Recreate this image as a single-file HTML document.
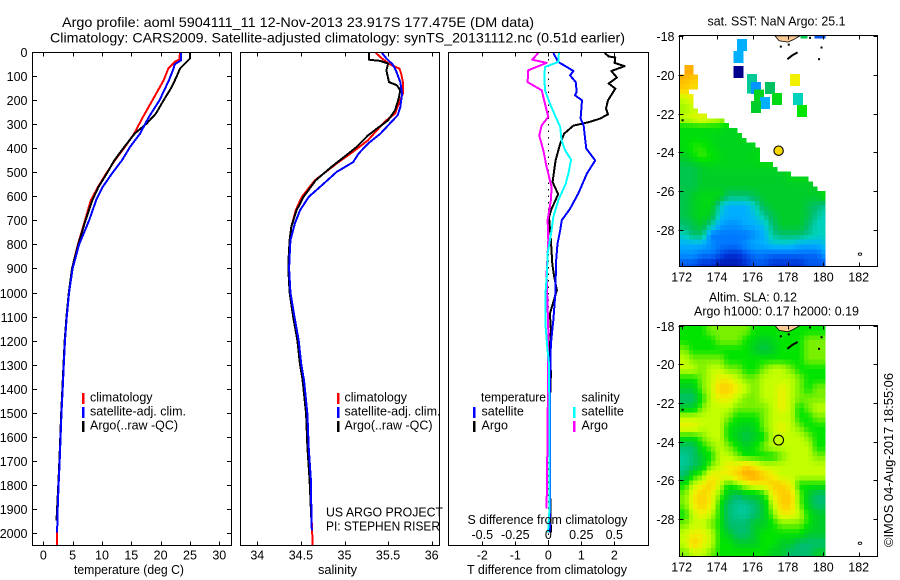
<!DOCTYPE html>
<html lang="en">
<head>
<meta charset="utf-8">
<title>Argo profile 5904111_11</title>
<style>
html,body{margin:0;padding:0;background:#fff;}
svg{display:block;}
text{font-family:"Liberation Sans",Arial,sans-serif;font-size:12.5px;fill:#000;}
.title{font-size:14px;}
</style>
</head>
<body>
<svg id="chart" xmlns="http://www.w3.org/2000/svg" width="900" height="580" viewBox="0 0 900 580">
  <text class="title" x="62" y="27" textLength="472" lengthAdjust="spacingAndGlyphs">Argo profile: aoml 5904111_11 12-Nov-2013 23.917S 177.475E (DM data)</text>
  <text class="title" x="50" y="42.5" textLength="575" lengthAdjust="spacingAndGlyphs">Climatology: CARS2009. Satellite-adjusted climatology: synTS_20131112.nc (0.51d earlier)</text>

  <g id="maps"></g>
  <g id="profiles"></g>

  <text x="74" y="574" textLength="110" lengthAdjust="spacingAndGlyphs">temperature (deg C)</text>
  <text x="318" y="574" textLength="39" lengthAdjust="spacingAndGlyphs">salinity</text>
  <text x="467" y="574" textLength="160" lengthAdjust="spacingAndGlyphs">T difference from climatology</text>
  <text x="467.5" y="524" textLength="160" lengthAdjust="spacingAndGlyphs">S difference from climatology</text>

  <text x="326" y="516.7" textLength="117" lengthAdjust="spacingAndGlyphs">US ARGO PROJECT</text>
  <text x="326" y="530.7" textLength="114" lengthAdjust="spacingAndGlyphs">PI: STEPHEN RISER</text>

  <text x="90" y="401.7">climatology</text>
  <text x="90" y="415.5" textLength="96" lengthAdjust="spacingAndGlyphs">satellite-adj. clim.</text>
  <text x="90" y="429.3" textLength="88" lengthAdjust="spacingAndGlyphs">Argo(..raw -QC)</text>
  <text x="344.5" y="401.7">climatology</text>
  <text x="344.5" y="415.5" textLength="96" lengthAdjust="spacingAndGlyphs">satellite-adj. clim.</text>
  <text x="344.5" y="429.3" textLength="88" lengthAdjust="spacingAndGlyphs">Argo(..raw -QC)</text>
  <text x="481" y="401.7" textLength="65" lengthAdjust="spacingAndGlyphs">temperature</text>
  <text x="481.5" y="415.5">satellite</text>
  <text x="481.5" y="429.3">Argo</text>
  <text x="581.5" y="401.7">salinity</text>
  <text x="581.5" y="415.5">satellite</text>
  <text x="581.5" y="429.3">Argo</text>

  <text x="707.5" y="25.7" textLength="138" lengthAdjust="spacingAndGlyphs">sat. SST: NaN Argo: 25.1</text>
  <text x="709" y="301.7" textLength="88" lengthAdjust="spacingAndGlyphs">Altim. SLA: 0.12</text>
  <text x="694" y="315.7" textLength="165" lengthAdjust="spacingAndGlyphs">Argo h1000: 0.17 h2000: 0.19</text>
  <text transform="translate(893,547) rotate(-90)" x="0" y="0" textLength="174" lengthAdjust="spacingAndGlyphs">©IMOS 04-Aug-2017 18:55:06</text>
</svg>

<script>
// ---------- Temperature profiles ----------
const tempClimDepth = [0,30,40,68,117,200,269,338,394,450,505,561,616,700,800,900,1000,1100,1200,1300,1400,1500,1600,1700,1800,1900,2000,2052];
const tempClim = [23.3,23.2,22.4,21.3,20.5,18.6,17.0,15.5,13.9,12.2,10.7,9.3,8.1,7.1,5.9,4.9,4.4,4.0,3.7,3.5,3.3,3.1,2.9,2.8,2.6,2.45,2.35,2.3];
const tempSatDepth = [0,33,50,68,117,200,269,338,394,450,505,561,616,700,800,900,1000,1100,1200,1300,1400,1500,1600,1700,1800,1900,2000];
const tempSat = [23.5,23.5,22.4,22.2,21.4,19.8,18.0,16.5,14.8,13.4,11.7,10.1,9.0,7.8,6.1,5.0,4.4,4.0,3.7,3.5,3.3,3.1,2.95,2.8,2.6,2.45,2.35];
const tempArgoDepth = [0,26,36,68,102,144,200,255,297,338,394,450,505,561,616,700,800,900,1000,1100,1200,1300,1400,1500,1600,1700,1800,1900,1950];
const tempArgo = [25.06,25,24.6,23.3,22.7,21.9,20.5,19.2,17.6,15.6,13.8,12.1,10.8,9.4,8.35,7.2,5.95,4.9,4.35,3.95,3.65,3.45,3.25,3.05,2.9,2.75,2.55,2.35,2.25];

// ---------- Salinity profiles ----------
const salClimDepth = [3,26,50,68,89,124,172,214,255,283,325,366,408,463,533,602,658,727,783,850,900,1000,1100,1200,1300,1365,1505,1644,1781,1921,2052];
const salClim = [35.36,35.43,35.52,35.63,35.65,35.67,35.67,35.62,35.58,35.48,35.37,35.27,35.12,34.91,34.66,34.51,34.44,34.39,34.37,34.365,34.36,34.375,34.42,34.47,34.5,34.53,34.57,34.585,34.61,34.62,34.635];
const salSatDepth = [3,26,50,75,124,172,228,262,297,339,380,422,457,498,547,602,658,713,783,850,900,1000,1100,1200,1300,1365,1505,1644,1781,1921,1990];
const salSat = [35.43,35.48,35.55,35.59,35.64,35.66,35.64,35.61,35.52,35.41,35.27,35.16,35.10,34.91,34.76,34.59,34.49,34.43,34.38,34.37,34.365,34.38,34.425,34.475,34.505,34.535,34.575,34.59,34.615,34.62,34.625];
const salArgoDepth = [3,31,36,47,75,124,137,158,193,241,283,318,346,394,429,477,533,602,658,727,783,850,900,1000,1100,1200,1300,1365,1505,1644,1781,1950];
const salArgo = [35.28,35.28,35.41,35.50,35.48,35.51,35.60,35.64,35.62,35.58,35.50,35.37,35.27,35.14,35.02,34.85,34.67,34.53,34.45,34.39,34.37,34.36,34.355,34.37,34.41,34.46,34.49,34.52,34.56,34.575,34.6,34.62];

// ---------- Differences from climatology ----------
const diffTArgoDepth = [3,17,22,44,58,78,105,130,151,200,234,258,276,291,305,339,380,450,491,540,591,651,686,783,880,935,991,1040,1088,1158,1227,1338,1574,2000];
const diffTArgo = [1.71,1.83,2.03,2.01,2.31,1.91,2.08,1.83,2.03,1.81,1.75,1.81,1.57,1.22,0.76,0.48,0.36,0.22,0.18,0.13,0.30,0.10,0.02,0.08,0.12,0.18,0.26,0.15,0.05,0.08,0.05,0.08,0.02,0.08];
const diffTSatDepth = [3,40,61,78,96,124,165,179,200,276,304,366,401,450,505,588,651,699,741,797,880,991,1116,1213,1297,1574,2000];
const diffTSat = [0.15,0.30,0.56,0.76,0.66,0.83,0.86,0.81,1.02,0.98,1.07,1.12,1.15,1.42,1.17,0.91,0.66,0.41,0.36,0.28,0.23,0.22,0.15,0.08,0.06,0.05,0.05];
const diffSSatDepth = [3,40,61,103,158,214,262,311,366,408,447,505,547,616,686,741,838,922,991,1144,1213,1297,1574,1910,2000];
const diffSSat = [0.08,0.076,-0.025,-0.03,-0.025,0.013,0.05,0.09,0.10,0.127,0.173,0.152,0.132,0.076,0.038,0.025,-0.005,-0.01,-0.02,-0.02,-0.01,0.005,0.01,0.008,-0.002];
const diffSArgoDepth = [3,31,44,75,124,158,214,269,304,346,408,477,561,616,699,783,922,1158,1574,1900];
const diffSArgo = [-0.076,-0.122,-0.013,-0.152,-0.157,-0.05,-0.025,0,-0.05,-0.069,-0.038,-0.013,0.025,0.02,-0.005,0,-0.013,0,-0.005,-0.013];

// ---------- Tick labels ----------
const depthTicks = [0,100,200,300,400,500,600,700,800,900,1000,1100,1200,1300,1400,1500,1600,1700,1800,1900,2000];
const tempTicks = [0,5,10,15,20,25,30];
const salTicks = [34,34.5,35,35.5,36];
const diffTTicks = [-2,-1,0,1,2];
const diffSLabels = ["-0.5","-0.25","0","0.25","0.5"];
const lonTicks = [172,174,176,178,180,182];
const latTicks = [-18,-20,-22,-24,-26,-28];

// ---------- SST map: levels on 0.5 degree rows, north to south ----------
const sstRows = [
[11],[11],[11],
[12,12],
[11.5,11,11],
[11,10.5,10.5],
[9,10,10],
[8.5,9,8.5],
[9,9.5,10,9.5,9,8],
[6.7,6.7,6.7,6.7,6.7,6.3,6.3],
[6.7,6.7,6.7,6.5,6.3,6.3,6.3,6.3],
[6.7,7.3,7.3,6.8,6.3,6.3,6.3,6.3,6.3],
[6,6.8,7.5,7,6.6,6.3,6.3,6.3,6.5,7],
[5.5,5.5,6,6.3,6.3,6.3,6.3,6.3,6.3,6.3,6.3,6.3],
[5.5,5.5,6,6,6,6,6,6,6,6,6,6,6.5,6.5,6.5],
[5.5,5.5,6,6,6,6,6,6,6,6,6,6,6,6,6,6],
[5.5,6,6.5,6.5,6.5,5,5,5,5.5,6,6,6,6,6,6,6,7],
[5.5,6,6.5,6.5,4,3,3,3,4,5.5,6,6,6,6,5.5,5,4.5],
[5.5,6,6.5,6,3.5,3,3,3,3.5,4.5,5.5,6,6,6,5.5,4.5,4],
[5,5.5,6,4.5,2.8,2.5,2.5,3,3,3.5,5,6,6,6,5,4,4],
[4,5,5,2,2,2,2,2,2.5,3,4.5,5,5,5,4.5,4,4],
[3,3,3,2.5,2,2,2,2.5,3,3,3.5,3.5,3.5,3,3,3,3.5],
[2.5,2.5,2,2,1.5,1,1,1.5,2,2,1.8,1.8,1.8,1.8,1.8,1.8,2.8],
[1.5,1.5,1,1,0.5,0.5,0.5,1,1.5,1.5,1,1,1,1,1.5,1.5,1.5]
];
// Eastern limit of valid SST per 0.25 degree latitude row
const sstEastEdge = [171,171,171,171,171,171,172.7,172.7,172.9,172.9,172.9,172.5,172.7,172.7,172.7,172.9,173.47,174.5,174.65,175.1,175.5,175.7,176.05,176.5,176.5,176.5,177.1,177.4,178.2,179.25,179.5,179.7,180.1,180.1,180.1,180.1,180.1,180.1,180.1,180.1,180.1,180.1,180.1,180.1,180.1,180.1,180.1,180.1];
// Isolated SST patches (north-west corner and level)
const patchLon = [175.13,174.92,174.92,175.69,175.69,175.92,176.71,176.09,176.43,175.92,177.1,178.29,178.12,178.52];
const patchLat = [-18.17,-18.77,-19.55,-19.96,-20.35,-20.37,-20.37,-20.75,-21.14,-21.35,-20.94,-20.94,-19.96,-21.57];
const patchLevel = [3,3,0,4.5,4.5,2.5,5.2,6.3,3,6,6.5,4,10,7];

// ---------- SLA map: levels on 0.5 degree rows, north to south ----------
const slaRows = [
[3,3,3,4,4,4,4,4,3,3,3,3,3,3,3,3],
[3,3,3,3,4,4,4,3,2.5,2,2.5,3,3,3,4,4],
[4,3,3,3,3,3,3,3,2,1.5,2,3,3,3,4,4],
[5,4,4,4,4,3,3,3,3,3,3,3,3,3,4,4],
[5,5,4,5,5,4,4,3,3,4,5,5,4,3,3,3],
[3,3,4,5,6,6,5,4,4,5,5,5,5,4,3,3],
[2,2,4,5,7,7,6,5,4,5,5,6,5,4,3,4],
[1,1,3,5,6,6,5,4,4,5,5,6,5,4,4,4],
[2,2,4,5,5,5,4,4,4,4,5,6,5,3,4,5],
[5,5,5,5,5,4,3,3,3,4,5,5,5,3,3,4],
[6,6,5,5,5,3,2.5,2,2.5,4,5,6,5,4,3,3],
[3,3,4,5,5,3,2,1.5,2,3,5,5,5,5,4,3],
[1,1,3,4,5,4,3,2,3,4,5,5,5,5,5,3],
[0.5,1,2,3,5,5,4,3,3,3,3,4,5,5,5,4],
[0.5,1,2,4,5,6,6,7,6,5,5,5,5,5,5,5],
[1,3,4,6,6,6,7,8,8,7,6,5,5,5,5,5],
[3,5,6,7,5,3,4,5,6,6,7,7,6,3,3,3],
[4,6,7,6,4,2,1,2,2,3,6,7,7,4,2,1],
[4,6,7,6,3,1,0.5,0.5,1,2,5,7,7,4,2,1],
[3,5,6,5,3,1,0.5,0.5,1,2,4,6,6,5,3,2],
[4,5,5,4,3,1,1,1,2,2,3,4,4,4,3,2],
[5,6,6,5,3,2,1,1,2,3,3,3,3,3,2,2],
[5,7,6,5,3,3,2,2,2,3,3,2,2,1,1,1],
[4,5,5,4,3,3,3,3,3,3,2,2,1,1,1,2]
];
const slaLevelOffset = 4;

// ---------- Coast geometry in lon/lat ----------
const coastLon = [177.27,177.5,178,178.3,178.68];
const coastLat = [-18,-18.25,-18.32,-18.2,-18];
const islandLon = [177.97,178.25,178.55];
const islandLat = [-19.2,-19,-18.85];
const dotLon = [177.6,178.05,179.9,179.76,172.05,179.25];
const dotLat = [-18.55,-18.45,-18.6,-19.2,-22.35,-18.1];

// ---------- Colour ramp ----------
const ramp = [[0,0,140],[0,50,215],[0,120,255],[0,175,255],[0,210,190],[0,190,110],[0,205,40],[0,228,0],[120,240,0],[195,255,0],[240,240,0],[255,205,0],[255,165,0]];

const NS = "http://www.w3.org/2000/svg";
const svg = document.getElementById("chart");
const gMaps = document.getElementById("maps");
const gProfiles = document.getElementById("profiles");

function make(parent, tag, attrs, txt) {
  const el = document.createElementNS(NS, tag);
  for (const k in attrs) el.setAttribute(k, attrs[k]);
  if (txt !== undefined) el.textContent = txt;
  parent.appendChild(el);
  return el;
}
function colourOf(level) {
  const v = Math.max(0, Math.min(ramp.length - 1, level));
  const i = Math.min(ramp.length - 2, Math.floor(v));
  const t = v - i;
  const c = [0,1,2].map(function (k) { return Math.round(ramp[i][k] + (ramp[i + 1][k] - ramp[i][k]) * t); });
  return "rgb(" + c.join(",") + ")";
}
function depthY(d) { return 52.3 + d * 0.2402; }

// ---------- Profile panels ----------
const panels = [
  { name: "temperature", left: 32.5, right: 231.5, x: function (v) { return 43.3 + v * 5.867; } },
  { name: "salinity", left: 240.5, right: 439.5, x: function (v) { return 257.3 + (v - 34) * 87.2; } },
  { name: "difference", left: 448.5, right: 648.5, x: function (v) { return 548.3 + v * 33; } }
];
const boxTop = 52.5;
const boxBottom = 545.5;
const sScale = function (v) { return 548.3 + v * 132; };

function drawLine(vals, depths, xf, colour, width, name) {
  const pts = vals.map(function (v, i) { return xf(v).toFixed(1) + "," + depthY(depths[i]).toFixed(1); }).join(" ");
  const el = make(gProfiles, "polyline", { points: pts, fill: "none", stroke: colour, "stroke-width": width, "shape-rendering": "crispEdges", "stroke-linejoin": "round" });
  
  
}

// zero reference line for the difference panel
const zeroLine = make(gProfiles, "line", { x1: panels[2].x(0), x2: panels[2].x(0), y1: boxTop, y2: boxBottom, stroke: "#000", "stroke-width": 1, "stroke-dasharray": "1.5 5", "shape-rendering": "crispEdges" });



drawLine(tempClim, tempClimDepth, panels[0].x, "#ff0000", 2, "temperature-climatology-line");
drawLine(tempArgo, tempArgoDepth, panels[0].x, "#000000", 2, "temperature-argo-line");
drawLine(tempSat, tempSatDepth, panels[0].x, "#0000ff", 2, "temperature-satellite-line");
drawLine(salClim, salClimDepth, panels[1].x, "#ff0000", 2, "salinity-climatology-line");
drawLine(salArgo, salArgoDepth, panels[1].x, "#000000", 2, "salinity-argo-line");
drawLine(salSat, salSatDepth, panels[1].x, "#0000ff", 2, "salinity-satellite-line");
drawLine(diffTArgo, diffTArgoDepth, panels[2].x, "#000000", 2, "t-diff-argo-line");
drawLine(diffTSat, diffTSatDepth, panels[2].x, "#0000ff", 2, "t-diff-satellite-line");
drawLine(diffSArgo, diffSArgoDepth, sScale, "#ff00ff", 2, "s-diff-argo-line");
drawLine(diffSSat, diffSSatDepth, sScale, "#00ffff", 2, "s-diff-satellite-line");

panels.forEach(function (p) {
  const box = make(gProfiles, "rect", { x: p.left, y: boxTop, width: p.right - p.left, height: boxBottom - boxTop, fill: "none", stroke: "#000", "stroke-width": 1, "shape-rendering": "crispEdges" });
  
  
});

function xTicks(values, xf, labels, prefix, withLabelsY) {
  values.forEach(function (v, i) {
    const x = Math.round(xf(v)) + 0.5;
    const top = make(gProfiles, "line", { x1: x, x2: x, y1: boxTop, y2: boxTop + 4, stroke: "#000", "shape-rendering": "crispEdges" });
    
    
    const bottom = make(gProfiles, "line", { x1: x, x2: x, y1: boxBottom, y2: boxBottom - 4, stroke: "#000", "shape-rendering": "crispEdges" });
    
    
    const lab = make(gProfiles, "text", { x: xf(v), y: withLabelsY, "text-anchor": "middle" }, labels[i]);
    
    
  });
}
xTicks(tempTicks, panels[0].x, tempTicks.map(String), "temperature-axis", 559.5);
xTicks(salTicks, panels[1].x, salTicks.map(String), "salinity-axis", 559.5);
xTicks(diffTTicks, panels[2].x, diffTTicks.map(String), "t-difference-axis", 559.5);

diffTTicks.forEach(function (v, i) {
  const lab = make(gProfiles, "text", { x: panels[2].x(v), y: 539, "text-anchor": "middle" }, diffSLabels[i]);
  
  
});

depthTicks.forEach(function (d) {
  const y = Math.round(depthY(d)) + 0.5;
  const left = make(gProfiles, "line", { x1: 32.5, x2: 37, y1: y, y2: y, stroke: "#000", "shape-rendering": "crispEdges" });
  
  
  const right = make(gProfiles, "line", { x1: 231.5, x2: 227, y1: y, y2: y, stroke: "#000", "shape-rendering": "crispEdges" });
  
  
  const lab = make(gProfiles, "text", { x: 27.5, y: y + 4.5, "text-anchor": "end" }, String(d));
  
  
});

// legend swatches
const swatchX = [83, 83, 83, 338, 338, 338, 474, 474, 574, 574];
const swatchRow = [0, 1, 2, 0, 1, 2, 1, 2, 1, 2];
const swatchColour = ["#ff0000","#0000ff","#000000","#ff0000","#0000ff","#000000","#0000ff","#000000","#00ffff","#ff00ff"];
swatchX.forEach(function (x, i) {
  const y = 393 + swatchRow[i] * 13.9;
  const s = make(gProfiles, "rect", { x: x - 1, y: y, width: 2.4, height: 11, fill: swatchColour[i], "shape-rendering": "crispEdges" });
  
  
});

// ---------- Maps ----------
function lonX(lon) { return 681.7 + (lon - 172) * 17.7; }
const mapLeft = 679.5;
const mapRight = 877.5;
const sstGeom = { top: 35.5, bottom: 266.5, y: function (lat) { return 152.3 + (-24 - lat) * 19.4; } };
const slaGeom = { top: 325.5, bottom: 556.5, y: function (lat) { return 441.7 + (-24 - lat) * 19.35; } };

function sample(rows, col, row) {
  const rr = Math.max(0, Math.min(rows.length - 1, row));
  const r = rows[rr];
  return r[Math.max(0, Math.min(r.length - 1, col))];
}
function bilinear(rows, cf, rf) {
  const c0 = Math.floor(cf), r0 = Math.floor(rf);
  const tc = cf - c0, tr = rf - r0;
  return (sample(rows, c0, r0) * (1 - tc) + sample(rows, c0 + 1, r0) * tc) * (1 - tr) +
         (sample(rows, c0, r0 + 1) * (1 - tc) + sample(rows, c0 + 1, r0 + 1) * tc) * tr;
}

function drawField(geom, rows, offset, name, keep) {
  const g = make(gMaps, "g", {});
  
  
  for (let j = 0; j < 48; j++) {
    const latN = -18 - j * 0.25;
    const y0 = Math.max(geom.top, geom.y(latN));
    const y1 = Math.min(geom.bottom, geom.y(latN - 0.25));
    if (y1 <= y0) continue;
    for (let i = 0; i < 33; i++) {
      const lonW = 171.9 + i * 0.25;
      if (!keep(j, lonW)) continue;
      const x0 = lonX(lonW);
      const x1 = lonX(Math.min(180.12, lonW + 0.25));
      const level = bilinear(rows, (lonW + 0.125 - 172.15) / 0.5, (-latN + 0.125 - 18.25) / 0.5) + offset;
      const cell = make(g, "rect", { x: x0.toFixed(1), y: y0.toFixed(1), width: (x1 - x0 + 0.3).toFixed(1), height: (y1 - y0 + 0.3).toFixed(1), fill: colourOf(level), "shape-rendering": "crispEdges" });
      
      
    }
  }
}
drawField(sstGeom, sstRows, 0, "sst-field", function (j, lonW) {
  if (j < 8 && lonW < 172.1) return false;
  return lonW + 0.1 < sstEastEdge[j];
});
drawField(slaGeom, slaRows, slaLevelOffset, "sla-field", function () { return true; });

// isolated SST patches
patchLon.forEach(function (lon, i) {
  const x = lonX(lon), y = sstGeom.y(patchLat[i]);
  const p = make(gMaps, "rect", { x: x.toFixed(1), y: y.toFixed(1), width: 10, height: 12, fill: colourOf(patchLevel[i]), "shape-rendering": "crispEdges" });
  
  
});
const sstStripA = make(gMaps, "rect", { x: lonX(178.7), y: 35.5, width: 7, height: 3, fill: colourOf(5.5), "shape-rendering": "crispEdges" });


const sstStripB = make(gMaps, "rect", { x: lonX(179.5), y: 35.5, width: 11, height: 3, fill: colourOf(1.5), "shape-rendering": "crispEdges" });



[sstGeom, slaGeom].forEach(function (geom) {
  const land = coastLon.map(function (lon, i) { return lonX(lon).toFixed(1) + "," + geom.y(coastLat[i]).toFixed(1); }).join(" ");
  const poly = make(gMaps, "polygon", { points: land, fill: "#fbc994", stroke: "#000", "stroke-width": 0.8 });
  
  

  const isl = islandLon.map(function (lon, i) { return lonX(lon).toFixed(1) + "," + geom.y(islandLat[i]).toFixed(1); }).join(" ");
  const line = make(gMaps, "polyline", { points: isl, fill: "none", stroke: "#000", "stroke-width": 2 });
  
  

  dotLon.forEach(function (lon, i) {
    const d = make(gMaps, "rect", { x: lonX(lon) - 1, y: geom.y(dotLat[i]) - 1, width: 2, height: 2, fill: "#000" });
    
    
  });
  const ring = make(gMaps, "ellipse", { cx: lonX(182.07), cy: geom.y(-29.25), rx: 1.8, ry: 1.2, fill: "#fff", stroke: "#000", "stroke-width": 0.8 });
  
  

  const frame = make(gMaps, "rect", { x: mapLeft, y: geom.top, width: mapRight - mapLeft, height: geom.bottom - geom.top, fill: "none", stroke: "#000", "shape-rendering": "crispEdges" });
  
  

  lonTicks.forEach(function (lon) {
    const x = Math.round(lonX(lon)) + 0.5;
    const t1 = make(gMaps, "line", { x1: x, x2: x, y1: geom.top, y2: geom.top + 4, stroke: "#000", "shape-rendering": "crispEdges" });
    
    
    const t2 = make(gMaps, "line", { x1: x, x2: x, y1: geom.bottom, y2: geom.bottom - 4, stroke: "#000", "shape-rendering": "crispEdges" });
    
    
    const lab = make(gMaps, "text", { x: lonX(lon), y: geom.bottom + 15, "text-anchor": "middle" }, String(lon));
    
    
  });
  latTicks.forEach(function (lat) {
    const y = Math.round(geom.y(lat)) + 0.5;
    const t1 = make(gMaps, "line", { x1: mapLeft - 1, x2: mapLeft + 4, y1: y, y2: y, stroke: "#000", "shape-rendering": "crispEdges" });
    
    
    const t2 = make(gMaps, "line", { x1: mapRight, x2: mapRight - 4, y1: y, y2: y, stroke: "#000", "shape-rendering": "crispEdges" });
    
    
    const lab = make(gMaps, "text", { x: 674.5, y: y + 4.5, "text-anchor": "end" }, String(lat));
    
    
  });
});

// float position markers
const floatLon = 177.475;
const floatLat = -23.917;
const floatSst = make(gMaps, "circle", { cx: lonX(floatLon), cy: sstGeom.y(floatLat), r: 4.7, fill: "#f5d800", stroke: "#000", "stroke-width": 1.1 });


const floatSla = make(gMaps, "circle", { cx: lonX(floatLon), cy: slaGeom.y(floatLat), r: 4.9, fill: "none", stroke: "#000", "stroke-width": 1.1 });


</script>
</body>
</html>
